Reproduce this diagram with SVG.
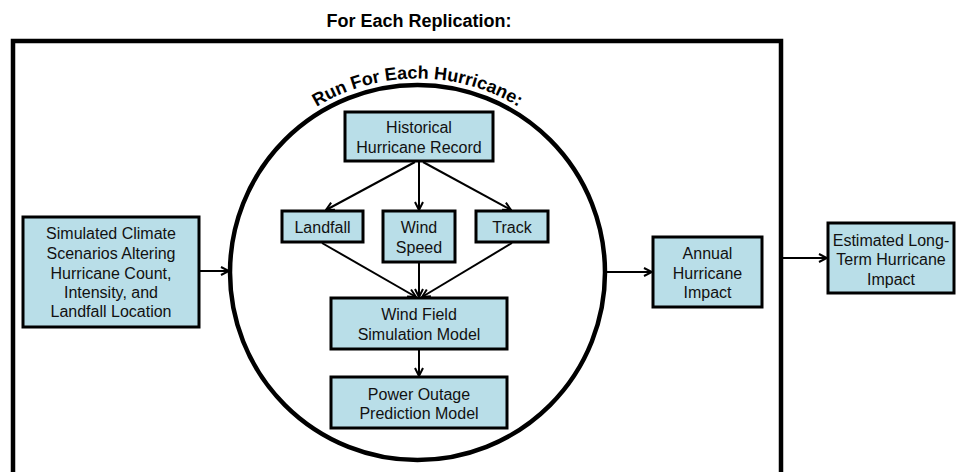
<svg xmlns="http://www.w3.org/2000/svg" width="964" height="472" viewBox="0 0 964 472">
<defs>
<style>
.box{fill:#b9dee8;stroke:#000;stroke-width:3}
.t{font-family:"Liberation Sans",Arial,sans-serif;font-size:16px;fill:#111;text-anchor:middle}
.b{font-family:"Liberation Sans",Arial,sans-serif;font-size:18px;font-weight:bold;fill:#000}
.c{fill:none;stroke:#000;stroke-width:2;marker-end:url(#ah)}
</style>
<marker id="ah" viewBox="0 0 10 10" refX="9" refY="5" markerWidth="10" markerHeight="10" markerUnits="userSpaceOnUse" orient="auto">
<path d="M1,1 L9,5 L1,9" fill="none" stroke="#000" stroke-width="2"/>
</marker>
<path id="arc" d="M 235.2 206.15 A 194 194 0 0 1 599.8 206.15"/>
</defs>
<rect width="964" height="472" fill="#fff"/>
<text class="b" x="419" y="27" text-anchor="middle">For Each Replication:</text>
<g id="replication">
<rect x="13" y="41" width="768" height="460" fill="none" stroke="#000" stroke-width="4.5"/>
</g>
<g id="hurricane-loop">
<circle cx="417.5" cy="272.5" r="187.5" fill="none" stroke="#000" stroke-width="4.5"/>
<text class="b"><textPath href="#arc" startOffset="50%" text-anchor="middle">Run For Each Hurricane:</textPath></text>
</g>
<g id="connectors">
<line class="c" x1="415" y1="162" x2="326" y2="210"/>
<line class="c" x1="419" y1="162" x2="419" y2="210"/>
<line class="c" x1="423" y1="162" x2="511" y2="210"/>
<line class="c" x1="322" y1="243" x2="416" y2="297"/>
<line class="c" x1="419" y1="263" x2="419" y2="297"/>
<line class="c" x1="512" y1="243" x2="422" y2="297"/>
<line class="c" x1="419" y1="350" x2="419" y2="376"/>
<line class="c" x1="200" y1="271" x2="229" y2="271"/>
<line class="c" x1="607" y1="272" x2="652" y2="272"/>
<line class="c" x1="783" y1="258" x2="827" y2="258"/>
</g>
<g id="historical">
<rect class="box" x="345" y="112" width="148" height="49"/>
<text class="t" x="419" y="133">Historical</text>
<text class="t" x="419" y="153">Hurricane Record</text>
</g>
<g id="landfall">
<rect class="box" x="282" y="211" width="81" height="31"/>
<text class="t" x="322.5" y="233">Landfall</text>
</g>
<g id="windspeed">
<rect class="box" x="383" y="211" width="72" height="51"/>
<text class="t" x="419" y="233">Wind</text>
<text class="t" x="419" y="253">Speed</text>
</g>
<g id="track">
<rect class="box" x="476" y="211" width="72" height="31"/>
<text class="t" x="512" y="233">Track</text>
</g>
<g id="windfield">
<rect class="box" x="331" y="298" width="176" height="51"/>
<text class="t" x="419" y="320">Wind Field</text>
<text class="t" x="419" y="340">Simulation Model</text>
</g>
<g id="power">
<rect class="box" x="331" y="377" width="176" height="51"/>
<text class="t" x="419" y="400">Power Outage</text>
<text class="t" x="419" y="419">Prediction Model</text>
</g>
<g id="simulated">
<rect class="box" x="23" y="217" width="176" height="110"/>
<text class="t" x="111" y="239">Simulated Climate</text>
<text class="t" x="111" y="259">Scenarios Altering</text>
<text class="t" x="111" y="279">Hurricane Count,</text>
<text class="t" x="111" y="298">Intensity, and</text>
<text class="t" x="111" y="317">Landfall Location</text>
</g>
<g id="annual">
<rect class="box" x="653" y="237" width="109" height="70"/>
<text class="t" x="707.5" y="259">Annual</text>
<text class="t" x="707.5" y="279">Hurricane</text>
<text class="t" x="707.5" y="298">Impact</text>
</g>
<g id="estimated">
<rect class="box" x="828" y="223" width="126" height="70"/>
<text class="t" x="891" y="246">Estimated Long-</text>
<text class="t" x="891" y="265">Term Hurricane</text>
<text class="t" x="891" y="285">Impact</text>
</g>
</svg>
